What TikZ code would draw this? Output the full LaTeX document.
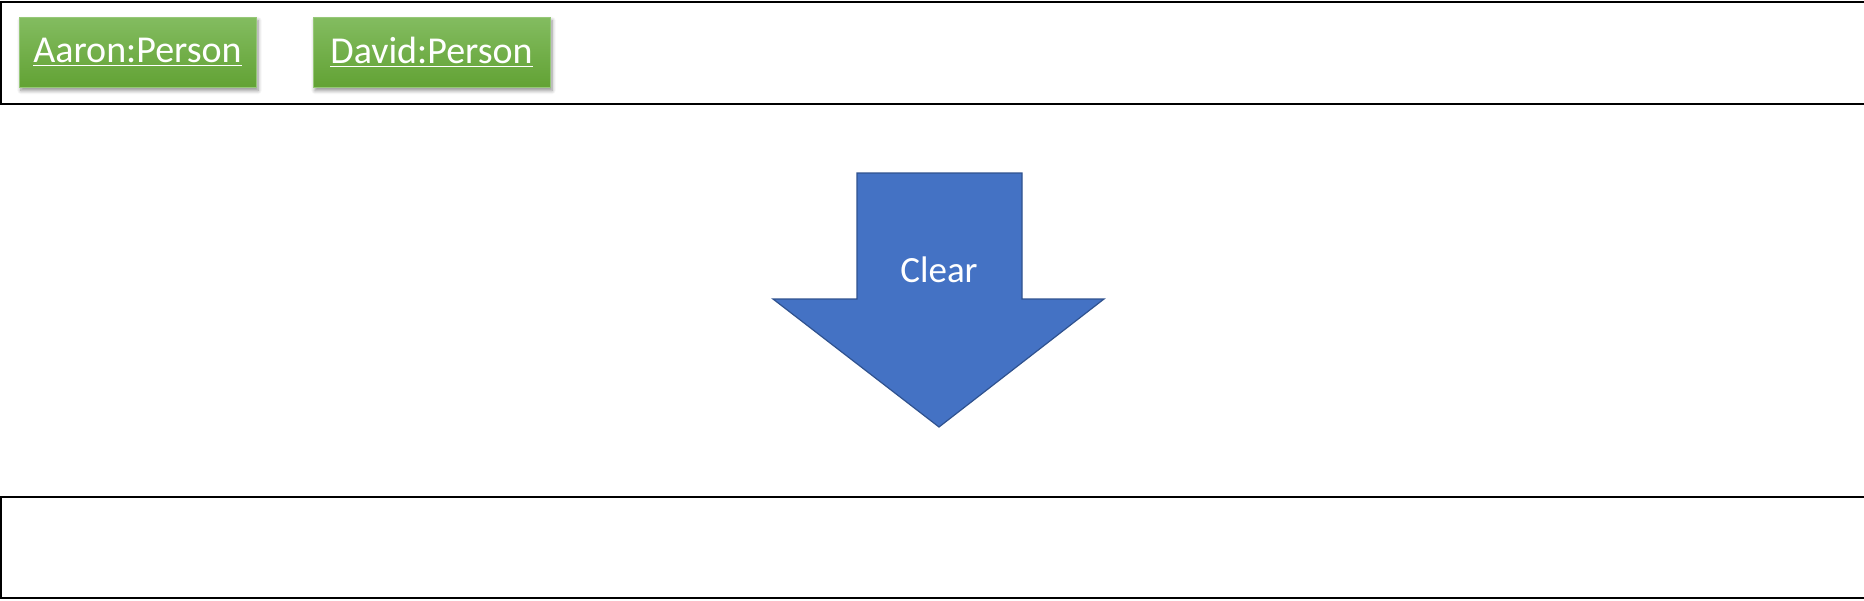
\documentclass[tikz,border=0pt]{standalone}
\usepackage{fontspec}
\setmainfont{Carlito}
\usetikzlibrary{shadows.blur,positioning}

\definecolor{objtop}{RGB}{131,188,96}
\definecolor{objbot}{RGB}{98,162,52}
\definecolor{objline}{RGB}{150,200,120}
\definecolor{cmdfill}{RGB}{68,114,196}
\definecolor{cmdline}{RGB}{47,82,143}

\tikzset{
  stateframe/.style={draw=black, line width=0.9pt},
  objbox/.style={draw=objline, line width=0.5pt, top color=objtop, bottom color=objbot,
    minimum width=118.5pt, minimum height=35pt, inner sep=0pt, text=white,
    font=\fontsize{19}{22}\selectfont,
    blur shadow={shadow xshift=1pt, shadow yshift=-1.5pt, shadow blur steps=6, shadow opacity=45}},
}

\begin{document}
\begin{tikzpicture}[x=0.5pt,y=-0.5pt]
        \useasboundingbox (0,0) rectangle (1864,600);

        % state before
        \draw[stateframe] (1,2) rectangle (1880,104);
        \node[objbox] (aaron) at (137.5,52.5) {\underline{Aaron:Person}};
        \node[objbox, right=28pt of aaron] (david) {\underline{David:Person}};

        % command arrow
        \coordinate (tip) at (939,427);
        \draw[fill=cmdfill, draw=cmdline, line width=0.6pt]
          (857,173) -- (1022,173) -- (1022,299) -- (1104,299) -- (tip)
          -- (773,299) -- (857,299) -- cycle;
        \node[text=white, font=\fontsize{18.5}{22}\selectfont] (cmd) at (939,270) {Clear};

        % state after
        \draw[stateframe] (1,497) rectangle (1880,598);
    \end{tikzpicture}
\end{document}
